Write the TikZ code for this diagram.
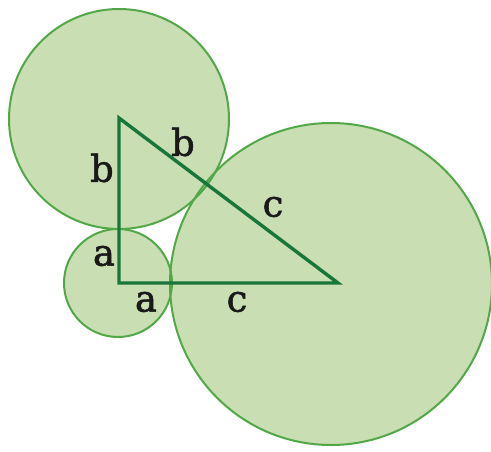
\documentclass[tikz,border=0pt]{standalone}
\usepackage{fontspec}
\setmainfont{DejaVu Serif}
\newfontfamily\lblfont[FakeBold=1.4]{DejaVu Serif}
\definecolor{disc}{RGB}{201,222,178}
\definecolor{rim}{RGB}{82,168,72}
\definecolor{leg}{RGB}{24,118,58}
\tikzset{
  lbl/.style={inner sep=0pt, font=\lblfont\fontsize{37}{37}\selectfont, text=black!90},
  rimline/.style={draw=rim, line width=2pt},
  legline/.style={draw=leg, line width=3.4pt, line join=miter}
}
\begin{document}
\begin{tikzpicture}[x=1pt,y=-1pt]
\useasboundingbox (0,0) rectangle (491,451);
% centres
\coordinate (A) at (119,118);
\coordinate (C) at (119,283);
\coordinate (B) at (338,283);
\coordinate (Ob) at (119,119);
\coordinate (Oa) at (118,283);
\coordinate (Oc) at (331,284);
% fills
\fill[disc] (Ob) circle[radius=110];
\fill[disc] (Oa) circle[radius=54];
\fill[disc] (Oc) circle[radius=161];
% rims
\draw[rimline] (Ob) circle[radius=110];
\draw[rimline] (Oa) circle[radius=54];
\draw[rimline] (Oc) circle[radius=161];
% triangle
\draw[legline] (A) -- (C) -- (B) -- cycle;
% labels
\node[lbl] (lb1) at (102,168) {b};
\node[lbl] (lb2) at (183,142) {b};
\node[lbl] (lc1) at (273,207) {c};
\node[lbl] (la1) at (104,256) {a};
\node[lbl] (la2) at (146,302) {a};
\node[lbl] (lc2) at (237,302) {c};
\end{tikzpicture}
\end{document}
